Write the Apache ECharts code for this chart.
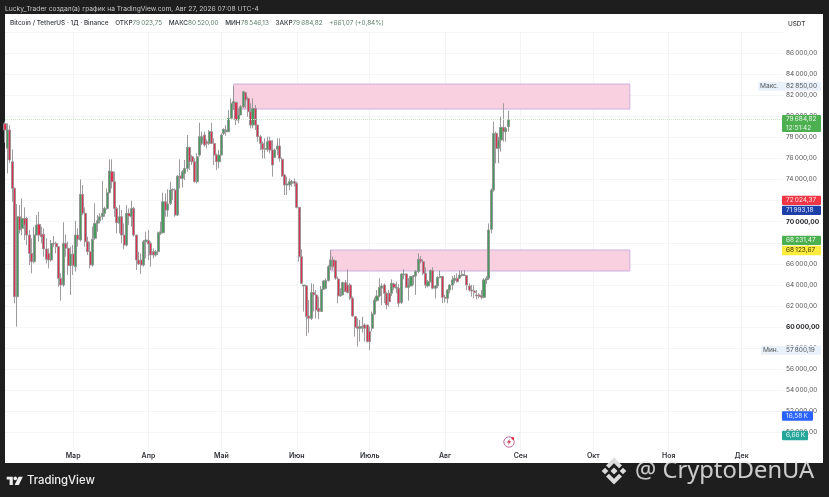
<!DOCTYPE html>
<html><head><meta charset="utf-8">
<style>html,body{margin:0;padding:0;background:#1e1e1e}#c{width:829px;height:497px}</style>
<script src="https://cdn.jsdelivr.net/npm/echarts@6/dist/echarts.min.js"></script>
</head><body><div id="c"></div>
<script>
// Daily candles, thousands of USDT: [open, close, low, high], first row is 1 Feb
const candles = [
[79.3,78.7,77.5,79.5],[76.96,78.7,74.58,79.33],[78.7,75.85,75.53,79.17],[75.69,73.16,71.9,76.86],[73.16,62.88,62.25,73.26],[62.88,70.47,60.04,71.67],
[70.47,69.21,68.89,71.58],[69.37,70.31,68.73,72.21],[70.31,69.68,68.26,71.36],[70.31,68.73,67.79,70.47],[68.73,66.99,65.89,69.21],[66.99,66.2,65.1,68.42],
[66.2,68.73,66.05,69.52],[68.73,69.68,68.73,70.63],[69.75,68.73,68.1,70.95],[68.8,68.57,67.94,69.52],[68.8,67.41,66.68,69.37],[67.41,66.43,66.05,68.42],
[66.99,66.36,65.57,67.47],[66.36,67.94,66.2,68.26],[67.88,67.94,67.63,68.64],[67.94,67.63,66.99,68.1],[67.63,64.62,63.83,67.63],[64.62,63.99,62.5,65.1],
[63.99,67.94,63.83,69.94],[67.94,67.47,66.68,68.8],[67.47,65.83,64.94,68.1],[65.83,66.93,63.04,67.63],[66.93,65.83,64.94,67.79],[65.73,68.73,65.26,70.09],
[68.73,68.32,67.63,69.37],[68.26,72.59,68.1,74],[72.59,70.79,70.63,73.48],[70.79,68.1,67.63,71.36],[68.1,67.15,66.84,68.58],[67.15,65.89,65.57,68.1],
[65.89,68.32,65.73,69.52],[68.42,69.84,68.26,71.74],[69.84,70.09,69.05,70.63],[70.09,70.47,69.84,70.79],[70.47,70.79,70.16,73.86],[70.79,71.26,70.47,71.42],
[71.26,72.75,71.11,73.16],[72.75,74.81,72.69,75.91],[74.74,73.79,73.16,75.91],[73.79,71.26,70.47,74.74],[71.26,69.9,68.89,71.42],[69.84,70.47,68.89,71.58],
[70.47,68.73,67.94,71.1],[68.73,67.78,67.37,69.84],[67.78,70.79,67.63,71.58],[70.79,70.54,69.68,71.26],[70.47,71.26,69.52,71.99],[71.26,68.73,68.57,71.42],
[68.73,66.36,65.41,68.73],[66.36,65.98,65.89,67.15],[66.36,65.89,65.03,66.99],[65.89,68.1,65.73,68.26],[68.1,68.26,66.52,69.05],[68.2,67.88,66.36,69.21],
[67.94,66.84,65.73,68.1],[67.15,66.84,66.52,67.47],[66.84,67.15,66.68,67.31],[67.15,68.95,66.84,69.05],[68.89,69.05,68.73,70],[68.95,71.89,68.89,72.75],
[71.89,71.1,70.47,72.68],[71.1,71.67,70.47,73.06],[71.74,73,71.58,73.79],[73,73.06,72.05,73.16],[73,70.63,70.47,73.16],[70.63,74.33,70.54,74.42],
[74.33,74.11,73.16,75.91],[74.11,74.74,73.25,74.9],[74.58,75.06,73.95,75.85],[75.06,77.05,74.74,78.22],[77.05,75.69,74.9,77.11],[76.16,75.69,75.37,76.32],
[75.69,73.79,73.7,76],[73.79,76.16,73.63,76.48],[76.32,78.06,76.16,79.39],[77.43,78.06,77.27,78.54],[78.22,77.27,77.11,78.54],[77.59,77.43,76.95,77.81],
[77.43,78.54,77.27,78.69],[78.54,77.43,77.43,79.39],[77.43,76.32,75.37,77.9],[76.32,75.69,74.9,76.48],[75.69,76.32,75.06,76.8],[76.32,78.22,76.32,78.38],
[78.38,78.76,78.22,78.86],[78.54,78.7,78.16,79.17],[78.54,79.81,78.54,80.6],[79.81,81.23,79.81,81.7],[81.23,81.4,80.6,82.85],[81.32,79.65,79.17,81.38],
[79.65,80.12,79.33,80.75],[80.12,80.91,80.12,81.07],[80.91,82.33,80.75,82.43],[82.24,81.55,80.75,82.33],[81.7,80.44,79.96,81.86],[80.44,79.17,78.86,81.23],
[79.17,80.75,78.86,81.7],[80.75,79.17,78.7,81.07],[79.17,78.07,77.59,79.17],[78.07,77.43,76.8,78.22],[77.43,76.87,76,77.59],[76.87,76.93,76,77.91],
[76.87,77.59,76.64,78.07],[77.68,76.8,76.48,78.07],[76.8,75.38,74.27,77.75],[76.1,76.8,76.1,76.96],[76.87,77.18,76.33,77.91],[77.18,76.01,75.69,77.91],
[75.92,74.33,74.27,76.1],[74.43,73.48,72.53,74.52],[73.48,73.58,72.53,74.27],[73.48,73.8,73,74.11],[73.64,73.8,73.32,73.95],[73.8,73.64,73.32,74.11],
[73.64,71.36,71.26,73.8],[71.36,66.68,66.2,71.42],[66.68,64.15,64.09,67.38],[63.9,63.99,61.47,63.99],[63.9,60.99,59.16,63.99],[61.05,60.83,59.47,62.57],
[60.83,63.27,60.67,64.15],[63.27,63.05,61.47,64.09],[63.05,61.62,60.83,63.52],[61.78,61.47,60.74,62.89],[61.47,63.58,61.47,63.9],[63.58,64.37,63.52,64.47],
[63.68,64.41,63.58,64.63],[64.41,65.73,64.31,65.89],[65.73,66.37,65.42,67.32],[66.37,65.73,65.42,66.68],[66.3,64.63,64.47,66.37],[64.56,62.95,62.26,64.79],
[62.95,63.05,62.89,63.68],[63.05,64.22,63.05,64.31],[64.22,63.36,63.36,64.47],[63.99,63.27,63.2,65.48],[63.99,62.73,62.57,64.15],[62.73,61.05,60.99,62.89],
[60.99,59.98,59.09,60.99],[60.04,59.88,58.15,60.83],[59.88,60.04,58.62,60.67],[59.98,60.04,59.47,60.99],[60.2,59.88,58.62,60.36],[60.2,58.62,58.53,60.2],
[59.57,58.62,57.8,60.04],[59.88,61.24,59.6,61.47],[61.24,62.57,61.15,62.82],[62.51,62.95,62.41,63.52],[62.95,63.77,62.82,64.63],[63.68,63.9,62.1,64.15],
[63.99,63.21,62.26,64.15],[63.21,62.1,61.69,63.36],[63.21,62.41,61.94,63.52],[63.21,64.15,62.95,64.53],[64.09,63.77,63.52,64.22],[63.68,63.77,63.21,64.31],
[63.68,62.26,61.88,64.09],[62.32,65.04,62.19,65.1],[64.94,65.04,64.53,65.48],[65.04,63.77,63.68,65.1],[63.77,63.99,62.51,64.63],[63.9,64.79,63.9,64.85],
[64.79,64.88,63.99,64.94],[64.85,65.26,63.05,65.42],[65.26,66.43,65.1,67],[66.43,66.21,66.05,66.75],[66.21,65.1,64.94,66.43],[65.1,63.99,63.68,65.67],
[63.9,64.31,63.77,64.47],[64.31,65.36,64.22,65.48],[65.36,63.68,63.58,65.67],[63.68,63.9,62.73,63.99],[63.9,64.72,63.68,64.85],[64.69,64.79,64.63,65.36],
[64.79,62.82,62.26,64.85],[62.82,62.73,62.32,63.05],[62.73,63.52,62.26,63.58],[63.52,63.99,63.21,64.09],[63.99,64.47,63.52,64.85],[64.41,64.63,64.15,64.94],
[64.63,64.31,64.22,65.1],[64.63,64.94,64.63,65.36],[64.88,65.01,64.79,65.36],[64.94,64.88,64.85,65.42],[64.88,63.99,63.52,64.94],[63.9,63.52,63.36,64.15],
[63.52,63.43,62.89,63.99],[63.43,63.27,62.73,63.99],[63.05,62.95,62.64,63.52],[63.05,62.89,62.73,63.21],[62.95,62.82,62.64,63.52],[62.82,64.47,62.73,64.63],
[64.47,64.63,64.09,64.85],[64.63,69.21,64.47,69.84],[69.27,73,68.89,73.16],[73,78.38,72.85,79.49],[78.38,76.96,75.53,78.54],[76.96,77.75,75.53,78.06],
[77.75,78.95,76.64,79.96],[78.95,78.54,77.59,81.23],[78.54,78.85,77.59,79.01],[79.02,79.68,78.55,80.52]
];
const monthNames = ['Фев','Мар','Апр','Май','Июн','Июль','Авг','Сен','Окт','Ноя','Дек'];
const monthDays = [28,31,30,31,30,31,31,30,31,30,18];
const axisMin = 48, axisMax = 88, axisStep = 2;
const boldTicks = [70,60];
const zones = [{from:94,to:257,top:83.06,bottom:80.69},{from:134,to:257,top:67.31,bottom:65.32}];
const lastPrice = 79.68482;
// side tags: level on the price scale where each tag sits
const tagLevels = [79.31,72.02,71.07,68.23,67.27,51.56,49.71];
const tagTexts = ['79\u2009684,82\n12:51:42','72\u2009024,37','71\u2009993,18','68\u2009231,47','68\u2009123,67','16,58\u2009K','6,66\u2009K'];
const tagFill = ['#4caf50','#f23645','#1c3fa8','#4caf50','#fdeb3d','#2962ff','#26a69a'];
const tagInk = ['#e9f7ea','#ffe3e6','#e3e9ff','#e9f7ea','#3a3500','#e3ebff','#e2f7f4'];
const tagWide = [39,39,39,39,39,31,26];
const extremeLevels = [82.85,57.8];
const extremeNames = ['Макс.','Мин.'];
const extremeTexts = ['82\u2009850,00','57\u2009800,19'];
const extremeLeft = [758,761];

const categories = [], monthFirst = {};
monthNames.forEach((m,k)=>{for(let d=1;d<=monthDays[k];d++){if(d===1)monthFirst[categories.length]=m;categories.push(m+' '+d);}});
const isMonthTick = i => i>0 && monthFirst[i]!==undefined;
const font = 'Inter, Roboto, "Liberation Sans", sans-serif';

function fmt(v){return v+'\u2009000,00';}

function tagItem(params, api){
  const i = params.dataIndex, y = api.coord([0, api.value(1)])[1];
  const h = i===0?17:9.4, w = tagWide[i];
  return {type:'group',children:[
    {type:'rect',shape:{x:782,y:y-h/2,width:w,height:h,r:1},style:{fill:tagFill[i]}},
    {type:'text',style:{x:786,y:y,text:tagTexts[i],fill:tagInk[i],font:'6.5px '+font,textVerticalAlign:'middle',lineHeight:8.5}}
  ]};
}
function extremeItem(params, api){
  const i = params.dataIndex, y = api.coord([0, api.value(1)])[1];
  return {type:'group',children:[
    {type:'rect',shape:{x:extremeLeft[i],y:y-4.5,width:821-extremeLeft[i],height:9},style:{fill:'#e9f1fb'}},
    {type:'text',style:{x:extremeLeft[i]+2,y:y,text:extremeNames[i],fill:'#555',font:'6.6px '+font,textVerticalAlign:'middle'}},
    {type:'text',style:{x:786,y:y,text:extremeTexts[i],fill:'#555',font:'6.5px '+font,textVerticalAlign:'middle'}}
  ]};
}

const legend = {
  text:'{t|Bitcoin / TetherUS · 1Д · Binance}  {t|ОТКР}{v|79\u2009023,75}  {t|МАКС}{v|80\u2009520,00}  {t|МИН}{v|78\u2009546,13}  {t|ЗАКР}{v|79\u2009684,82}  {v|+661,07 (+0,84%)}',
  x:10,y:23,textVerticalAlign:'middle',
  rich:{t:{fill:'#33373d',font:'500 6.4px '+font},v:{fill:'#5f7f6c',font:'6.4px '+font}}
};

const chart = echarts.init(document.getElementById('c'),null,{renderer:'canvas'});
chart.setOption({
  animation:false,
  backgroundColor:'#1e1e1e',
  grid:{left:5,right:46,top:32,height:421.5},
  xAxis:{type:'category',data:categories,boundaryGap:false,
    axisLine:{show:false},axisTick:{show:false},
    axisLabel:{interval:i=>isMonthTick(i),formatter:(v,i)=>monthFirst[i],color:'#2f3238',fontFamily:font,fontSize:7,fontWeight:600,margin:-1},
    splitLine:{show:true,interval:i=>isMonthTick(i),lineStyle:{color:'#f3f4f5',width:1}}},
  yAxis:{type:'value',position:'right',min:axisMin,max:axisMax,interval:axisStep,scale:true,
    axisLine:{show:false},axisTick:{show:false},
    splitLine:{show:true,showMinLine:false,lineStyle:{color:'#f4f5f6',width:1}},
    axisLabel:{margin:3,formatter:v=>{if(v===axisMin||v===axisMax)return'';return boldTicks.includes(v)?'{b|'+fmt(v)+'}':fmt(v);},
      color:'#555',fontFamily:font,fontSize:6.5,rich:{b:{color:'#1b1d21',fontWeight:700,fontSize:6.6,fontFamily:font}}}},
  series:[
    {type:'candlestick',data:candles,barWidth:2.6,z:3,
      itemStyle:{color:'#459c5c',color0:'#df2f4e',borderColor:'#909090',borderColor0:'#989294',borderWidth:0.9},
      markArea:{silent:true,z:1,itemStyle:{color:'#f9d0e0',borderColor:'#cdb0dc',borderWidth:1},
        data:zones.map(z=>[{xAxis:z.from,yAxis:z.top},{xAxis:z.to,yAxis:z.bottom}])},
      markLine:{silent:true,symbol:'none',label:{show:false},animation:false,
        lineStyle:{color:'#c8e8c8',type:'dotted',width:1},data:[{yAxis:lastPrice}]}},
    {type:'custom',renderItem:extremeItem,z:5,silent:true,data:extremeLevels.map(v=>[0,v])},
    {type:'custom',renderItem:tagItem,z:6,silent:true,data:tagLevels.map(v=>[0,v])}
  ],
  graphic:{elements:[
    {type:'rect',z:-100,silent:true,shape:{x:5,y:14,width:818,height:449},style:{fill:'#fff'}},
    {type:'text',z:10,style:{x:5,y:9,text:'Lucky_Trader создал(а) график на TradingView.com, Авг 27, 2026 07:08 UTC-4',fill:'#c8c8c8',font:'6.7px '+font,textVerticalAlign:'middle'}},
    {type:'text',z:10,style:legend},
    {type:'text',z:10,style:{x:788,y:24,text:'USDT',fill:'#444',font:'500 6.4px '+font,textVerticalAlign:'middle'}},
    // lightning mark
    {type:'circle',z:10,shape:{cx:509,cy:442,r:5.2},style:{fill:'#fff',stroke:'#b65c94',lineWidth:0.9}},
    {type:'polygon',z:10,shape:{points:[[510,438.8],[506.8,442.6],[508.8,442.6],[508,445.2],[511.2,441.2],[509.2,441.2]]},style:{fill:'#c8385a'}},
    {type:'circle',z:10,shape:{cx:512.8,cy:438.4,r:1.3},style:{fill:'#e8283c'}},
    // TradingView logo
    {type:'polygon',z:10,shape:{points:[[6.7,476.7],[12.8,476.7],[12.8,485],[9.6,485],[9.6,479.4],[6.7,479.4]]},style:{fill:'#eee'}},
    {type:'circle',z:10,shape:{cx:15.3,cy:478.4,r:1.8},style:{fill:'#eee'}},
    {type:'polygon',z:10,shape:{points:[[18.6,476.7],[22.8,476.7],[18.8,485],[14.6,485]]},style:{fill:'#eee'}},
    {type:'text',z:10,style:{x:27,y:480.5,text:'TradingView',fill:'#eeeeee',font:'500 11.3px '+font,textVerticalAlign:'middle'}},
    // watermark
    {type:'polygon',z:10,shape:{points:[[614,467.5],[617.5,471],[614,474.5],[610.5,471]]},style:{fill:'#dcdcdc'}},
    {type:'polygon',z:10,shape:{points:[[605,467.7],[608.3,471],[605,474.3],[601.7,471]]},style:{fill:'#dcdcdc'}},
    {type:'polygon',z:10,shape:{points:[[623,467.7],[626.3,471],[623,474.3],[619.7,471]]},style:{fill:'#dcdcdc'}},
    {type:'polygon',z:10,shape:{points:[[614,457.5],[622,465.5],[619,468.2],[614,463.2],[609,468.2],[606,465.5]]},style:{fill:'#dcdcdc'}},
    {type:'polygon',z:10,shape:{points:[[614,484.5],[622,476.5],[619,473.8],[614,478.8],[609,473.8],[606,476.5]]},style:{fill:'#dcdcdc'}},
    {type:'text',z:10,style:{x:635,y:471,text:'@ CryptoDenUA',fill:'rgba(235,235,235,0.85)',font:'23.7px "Noto Sans", "Open Sans", sans-serif',textVerticalAlign:'middle'}}
  ]}
});
</script></body></html>
